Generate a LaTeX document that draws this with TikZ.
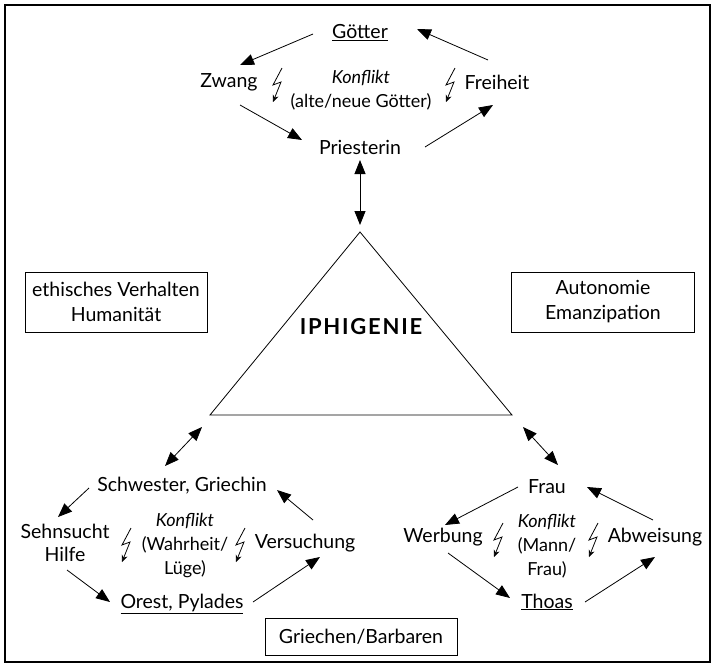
\documentclass[tikz,border=0pt]{standalone}
\usepackage{fontspec}
\setmainfont{Lato}
\usetikzlibrary{arrows.meta}
\begin{document}
\begin{tikzpicture}[x=1pt,y=-1pt,
  lbl/.style={font=\fontsize{19.5}{23}\selectfont, inner sep=1pt, align=center},
  klbl/.style={font=\fontsize{18}{24}\selectfont, inner sep=1pt, align=center},
  ibox/.style={draw, line width=0.8pt, font=\fontsize{19.5}{25}\selectfont, align=center, inner sep=0pt},
  arr/.style={-{Triangle[length=14pt,width=11pt]}, line width=0.8pt},
  darr/.style={{Triangle[length=14pt,width=11pt]}-{Triangle[length=14pt,width=11pt]}, line width=0.8pt},
  flash/.pic={\draw[line width=0.8pt, -{Stealth[length=7pt,width=6pt]}] (4,-17) -- (-5,0) -- (3,-3) -- (-5,17);}
]
\useasboundingbox (0,0) rectangle (715,667);
\draw[line width=1.5pt] (5,5) rectangle (710,662);

% top cycle
\node[lbl] (goetter) at (360,33) {\underline{Götter}};
\node[lbl] (zwang) at (229,82) {Zwang};
\node[klbl] (konf1) at (361,90) {\textit{Konflikt}\\(alte/neue Götter)};
\node[lbl] (freiheit) at (497,82) {Freiheit};
\node[lbl] (priesterin) at (360,147) {Priesterin};
\pic at (278,85) {flash};
\pic at (451,85) {flash};

\draw[arr] ([shift={(-47,1)}]goetter.center) -- ([shift={(11,-17)}]zwang.center);
\draw[arr] ([shift={(-9,-22)}]freiheit.center) -- ([shift={(57,-4)}]goetter.center);
\draw[arr] ([shift={(11,23)}]zwang.center) -- ([shift={(-58,-7)}]priesterin.center);
\draw[arr] ([shift={(65,0)}]priesterin.center) -- ([shift={(-4,23)}]freiheit.center);

% triangle
\coordinate (apex) at (360,232);
\coordinate (bl) at (210,415);
\coordinate (br) at (512,415);
\draw[line width=0.8pt] (apex) -- (br) -- (bl) -- cycle;
\node[font=\fontsize{22}{26}\selectfont\bfseries\addfontfeatures{LetterSpace=8}] (iphigenie) at (361,327) {IPHIGENIE};
\draw[darr] ([shift={(0,13)}]priesterin.center) -- ([shift={(0,-7)}]apex);

% side boxes
\node[ibox, minimum width=182pt, minimum height=60pt] (hum) at (116,302) {ethisches Verhalten\\Humanität};
\node[ibox, minimum width=183pt, minimum height=60pt] (auto) at (603,302) {Autonomie\\Emanzipation};
\node[ibox, minimum width=192pt, minimum height=37pt] (gb) at (361,636.5) {Griechen/Barbaren};

% bottom left cycle
\node[lbl] (schwester) at (182,486) {Schwester, Griechin};
\node[lbl] (sehnsucht) at (65,543) {Sehnsucht\\Hilfe};
\node[klbl] (konf2) at (185,546) {\textit{Konflikt}\\(Wahrheit/\\Lüge)};
\node[lbl] (versuchung) at (305,543) {Versuchung};
\node[lbl] (orest) at (182,604) {\underline{Orest, Pylades}};
\pic at (127,545) {flash};
\pic at (241,545) {flash};

\draw[darr] ([shift={(-8,12)}]bl) -- ([shift={(-17,-20)}]schwester.center);
\draw[arr] ([shift={(-93,2)}]schwester.center) -- ([shift={(-7,-26)}]sehnsucht.center);
\draw[arr] ([shift={(2,27)}]sehnsucht.center) -- ([shift={(-72,-2)}]orest.center);
\draw[arr] ([shift={(71,-2)}]orest.center) -- ([shift={(15,14)}]versuchung.center);
\draw[arr] ([shift={(8,-23)}]versuchung.center) -- ([shift={(95,4)}]schwester.center);

% bottom right cycle
\node[lbl] (frau) at (547,487) {Frau};
\node[lbl] (werbung) at (443,537) {Werbung};
\node[klbl] (konf3) at (547,546) {\textit{Konflikt}\\(Mann/\\Frau)};
\node[lbl] (abweisung) at (655,537) {Abweisung};
\node[lbl] (thoas) at (547,602) {\underline{Thoas}};
\pic at (499,540) {flash};
\pic at (594,540) {flash};

\draw[darr] ([shift={(11,12)}]br) -- ([shift={(11,-22)}]frau.center);
\draw[arr] ([shift={(-29,0)}]frau.center) -- ([shift={(2,-12)}]werbung.center);
\draw[arr] ([shift={(5,16)}]werbung.center) -- ([shift={(-37,-4)}]thoas.center);
\draw[arr] ([shift={(38,0)}]thoas.center) -- ([shift={(0,20)}]abweisung.center);
\draw[arr] ([shift={(-2,-17)}]abweisung.center) -- ([shift={(40,0)}]frau.center);
\end{tikzpicture}
\end{document}
